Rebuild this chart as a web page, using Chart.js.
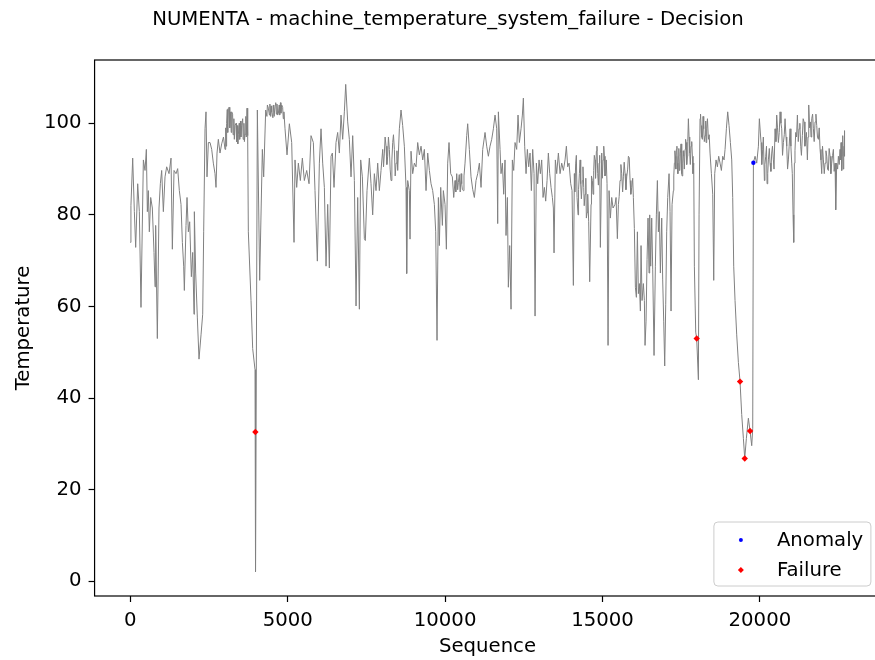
<!DOCTYPE html>
<html>
<head>
<meta charset="utf-8">
<script src="https://cdn.jsdelivr.net/npm/chart.js@4.4.1/dist/chart.umd.min.js"></script>
<style>
  html, body { margin: 0; padding: 0; background: #fff; overflow: hidden; }
  #wrap { width: 896px; height: 660px; }
</style>
</head>
<body>
<div id="wrap"><canvas id="chart" width="896" height="660"></canvas></div>
<script>
const TITLE = 'NUMENTA - machine_temperature_system_failure - Decision';

// sensor trace (sequence index, temperature)
const seq = [
  0, 20, 76, 129, 171, 235, 287, 340, 415, 468, 510, 542, 573, 605, 648, 700, 753, 785, 806, 859,
  912, 955, 997, 1050, 1103, 1156, 1230, 1294, 1336, 1389, 1452, 1505, 1558, 1611, 1654, 1696, 1717, 1770, 1802, 1844,
  1887, 1940, 1982, 2024, 2035, 2077, 2130, 2183, 2247, 2300, 2331, 2374, 2405, 2437, 2480, 2533, 2586, 2638, 2691, 2723,
  2755, 2797, 2850, 2903, 2960, 3009, 3060, 3115, 3221, 3327, 3433, 3539, 3644, 3708, 3729, 3750, 3835, 3888, 3962, 3973,
  3983, 4036, 4110, 4195, 4237, 4301, 4386, 4492, 4598, 4703, 4809, 4915, 4979, 5053, 5127, 5201, 5233, 5286, 5339, 5402,
  5466, 5529, 5604, 5678, 5741, 5815, 5868, 5942, 6006, 6059, 6112, 6165, 6218, 6271, 6324, 6377, 6419, 6472, 6535, 6588,
  6641, 6694, 6747, 6800, 6843, 6906, 6959, 7012, 7065, 7118, 7171, 7224, 7277, 7319, 7372, 7436, 7467, 7520, 7594, 7647,
  7700, 7753, 7806, 7859, 7912, 7965, 8018, 8071, 8124, 8177, 8230, 8283, 8336, 8389, 8442, 8495, 8547, 8600, 8653, 8706,
  8759, 8780, 8812, 8865, 8886, 8918, 8971, 9024, 9077, 9130, 9183, 9236, 9289, 9342, 9395, 9448, 9501, 9554, 9606, 9659,
  9702, 9744, 9787, 9818, 9861, 9914, 9945, 9998, 10041, 10083, 10125, 10178, 10231, 10274, 10316, 10422, 10528, 10581, 10634, 10687,
  10718, 10771, 10824, 10877, 10930, 10983, 11036, 11089, 11142, 11195, 11269, 11322, 11375, 11428, 11481, 11534, 11587, 11640, 11671, 11693,
  11746, 11777, 11820, 11862, 11904, 11936, 11979, 12010, 12053, 12095, 12137, 12180, 12222, 12275, 12317, 12360, 12413, 12455, 12487, 12529,
  12572, 12614, 12656, 12699, 12741, 12783, 12826, 12858, 12900, 12942, 12985, 13027, 13069, 13112, 13154, 13196, 13239, 13281, 13323, 13366,
  13408, 13440, 13461, 13503, 13546, 13599, 13652, 13705, 13758, 13811, 13853, 13895, 13938, 13991, 14033, 14075, 14107, 14149, 14192, 14224,
  14266, 14308, 14361, 14404, 14446, 14488, 14531, 14562, 14594, 14637, 14679, 14721, 14764, 14806, 14848, 14891, 14933, 14976, 15018, 15060,
  15103, 15145, 15177, 15209, 15251, 15293, 15336, 15399, 15431, 15473, 15505, 15558, 15611, 15664, 15717, 15770, 15823, 15876, 15929, 15981,
  16013, 16045, 16077, 16109, 16140, 16172, 16204, 16225, 16257, 16299, 16331, 16352, 16384, 16416, 16447, 16479, 16500, 16532, 16564, 16596,
  16638, 16680, 16712, 16744, 16776, 16807, 16839, 16882, 16913, 16945, 16977, 17009, 17040, 17072, 17115, 17146, 17178, 17210, 17252, 17284,
  17316, 17347, 17379, 17411, 17443, 17475, 17517, 17549, 17581, 17623, 17655, 17697, 17729, 17771, 17813, 17856, 17898, 17919, 17962, 17993,
  18047, 18068, 18099, 18131, 18174, 18216, 18258, 18311, 18364, 18417, 18460, 18502, 18534, 18565, 18608, 18650, 18692, 18735, 18777, 18820,
  18862, 18894, 18936, 18978, 19021, 19063, 19106, 19137, 19169, 19211, 19264, 19317, 19370, 19423, 19476, 19519, 19571, 19635, 19688, 19741,
  19773, 19794, 19847, 19900, 19953, 19984, 20037, 20090, 20143, 20186, 20228, 20270, 20323, 20376, 20429, 20482, 20535, 20588, 20641, 20694,
  20747, 20800, 20853, 20906, 20959, 21012, 21054, 21075, 21096, 21139, 21192, 21245, 21297, 21350, 21403, 21456, 21509, 21552, 21605, 21647,
  21700, 21753, 21806, 21859, 21912, 21965, 22018, 22071, 22124, 22177, 22230, 22282, 22335, 22388, 22409, 22441, 22494, 22547, 22579, 22600,
  22632, 22664, 22685, 22694
];
const temp = [
  74, 82, 92.4, 80.7, 72.9, 86.8, 80.7, 59.8, 92, 89.7, 94.3, 80.7, 85.3, 76.3, 83.8, 81.5, 71.8, 64.3, 77.7, 53,
  81.5, 86.8, 89.7, 80.7, 88.3, 90.5, 89, 92.4, 72.5, 89.7, 89, 90.1, 85.3, 82.3, 74, 68.8, 63.5, 77.7, 83.8, 76.3,
  78.5, 66.5, 71.8, 58.3, 80.7, 67.3, 57.5, 48.5, 53.8, 58.3, 76.3, 98.8, 102.5, 88.3, 95.8, 95.8, 94.3, 91.3, 89, 86,
  93.5, 96.5, 93.5, 95.5, 97, 94.3, 100, 103.3, 102.5, 99.5, 97.6, 99.5, 97.6, 103.3, 97.3, 76.3, 61.3, 50.8, 46.2, 32.6,
  2.1, 102.9, 65.7, 94.3, 88.3, 102.9, 103.3, 102.5, 104, 102.1, 104, 98.8, 93.1, 99.9, 95.8, 74, 92, 86, 91.3, 87.5,
  92.4, 87.5, 89.7, 86.8, 97.3, 95.8, 85.3, 69.9, 91.3, 98.8, 91.3, 86, 68.8, 82.3, 68.4, 92.8, 93.5, 86, 95.8, 98,
  93.5, 101.8, 96.5, 102.5, 108.5, 100.3, 96.5, 88.3, 97.3, 87.5, 60.1, 83.8, 59.4, 92, 88.3, 74.8, 74.4, 85.3, 92.4, 86.8,
  80, 89, 85.3, 91.3, 85.3, 89.7, 94.3, 93.5, 95, 92.8, 94.3, 87.5, 95.8, 94.3, 91.3, 89.7, 98.8, 102.9, 99.5, 95,
  86, 67.2, 87.5, 85.3, 74.7, 93.9, 89, 91.3, 90.5, 95.8, 93.1, 95, 92, 94.3, 85.3, 93.5, 89.7, 86.8, 85.3, 82.3,
  76.3, 52.6, 83.8, 73.3, 86, 77.7, 85.3, 82.3, 72.5, 91.3, 95.8, 89, 88.3, 83.8, 87.5, 87.1, 86.8, 85.3, 91.3, 97.3,
  99.9, 94.3, 88.3, 85.6, 83.8, 87.5, 89, 91.3, 86, 94.3, 98, 95, 92.8, 95, 96.5, 98.8, 101.8, 98.8, 78.1, 102.5,
  94.3, 89, 91.3, 84.5, 92, 75.5, 83.8, 64.2, 73.3, 59.4, 92, 89.7, 95.8, 94.3, 101.8, 95.8, 98.8, 101.8, 105.5, 95,
  89, 94.3, 90.5, 93.5, 85.3, 94.3, 89, 57.9, 91.3, 86.8, 92, 89, 92, 83.8, 86, 83, 87.5, 93.5, 89, 86,
  83.8, 81.5, 71.7, 92, 89, 93.5, 89, 91.3, 89.7, 92, 95, 90.5, 91.3, 86.8, 85.3, 64.6, 89, 91.3, 83.8, 80,
  89, 86.8, 87.5, 86, 84.5, 79.3, 84.5, 78.5, 65.4, 82.3, 87.5, 89.7, 92, 93.9, 89, 91.3, 72.9, 93.5, 92, 92.8,
  89, 86.8, 51.5, 85.3, 79.3, 83.8, 81.5, 82.3, 83.8, 74.8, 82.3, 87.5, 89, 88.3, 89, 88.3, 92.8, 87.5, 86, 83.8,
  77, 64.2, 62, 76.3, 62.8, 65, 59, 73.3, 61.3, 65, 61.3, 51.5, 56.8, 70.3, 79.3, 67.3, 80, 68.8, 79.3, 68,
  49.3, 68.8, 80, 87.5, 76.3, 80.7, 67.3, 79.3, 65.8, 56.8, 47, 60.5, 76.3, 83.8, 89, 80.7, 59, 82.3, 85.3, 91.3,
  92.8, 94.3, 91.3, 92.8, 89.7, 93.5, 89, 91.3, 92.8, 94.3, 95.8, 92.8, 101, 93.5, 95, 92.8, 91.3, 68.8, 54.4, 53,
  44, 80, 101, 99.5, 96.5, 98.8, 97.3, 98.8, 96.5, 93.5, 89, 84.5, 65.7, 89, 92, 90.5, 92.8, 91.3, 89.7, 92.8,
  92, 94.3, 98.8, 102.5, 99.5, 95.8, 92, 83.8, 68.8, 61.3, 53.8, 47.8, 43.6, 36.4, 31.2, 26.8, 31.2, 35.6, 32.8, 29.6,
  33.4, 91.4, 92.8, 91.3, 95, 101, 95.8, 94.3, 87.5, 92.8, 86.8, 92, 91.3, 93.5, 92, 98.8, 101.8, 95.8, 102.5, 98.8,
  95.8, 101, 95, 92, 98.8, 91.3, 80, 74, 91.3, 98, 101.8, 98.8, 95, 97.3, 100.3, 96.5, 92, 104, 100.3, 101,
  98.8, 100.3, 99.5, 96.5, 94.3, 89, 92, 91.3, 92.8, 89.7, 92.8, 91.3, 94.3, 91.3, 81.1, 91.3, 92.8, 94.3, 95.8, 89.7,
  97.3, 93.5, 98.4, 92.8
];

// extra points on the edges of the dense, noisy stretches
const bandSeq = [
  3030, 3045, 3080, 3095, 3140, 3160, 3190, 3205, 3250, 3265, 3290, 3305, 3360, 3375, 3400, 3415, 3460, 3475, 3500, 3515,
  3570, 3585, 3610, 3625, 3670, 3685,
  4340, 4355, 4420, 4435, 4460, 4475, 4530, 4545, 4570, 4620, 4640, 4660, 4680, 4730, 4745, 4770, 4785, 4840, 4860, 4880,
  8045, 8095, 8150, 8200, 8255, 8310, 8360, 8415, 8470,
  10340, 10370, 10400, 10450, 10480, 10510, 10550, 10600,
  14120, 14170, 14240, 14290, 14330, 14380, 14420, 14470, 14510, 14650, 14700, 14740, 14780, 14825, 14870, 14910, 14995, 15040, 15080, 15120,
  15530, 15585, 15640, 15690, 15745, 15800, 15850, 15900, 15960,
  17265, 17300, 17330, 17365, 17395, 17425, 17460, 17495, 17530, 17565, 17600, 17640, 17675, 17710, 17750, 17790, 17835, 17875,
  18115, 18150, 18195, 18235, 18280, 18290, 18335, 18390,
  20060, 20110, 20160, 20210, 20250, 20300, 20350, 20400, 20450, 20510, 20560, 20615, 20670, 20720, 20775, 20830, 20880, 20930, 20985, 21030,
  21115, 21165, 21220, 21270, 21320, 21375, 21430, 21480, 21530, 21580, 21625, 21675, 21725, 21780, 21830, 21885, 21940, 21990, 22045, 22100,
  22150, 22200, 22255, 22310, 22360, 22470, 22520, 22560, 22615, 22650, 22675
];
const bandTemp = [
  99, 95, 103, 98, 103.5, 99, 102.5, 98, 102, 97.5, 101, 96.5, 100, 96, 99.5, 95.5, 100, 96.5, 100.5, 97,
  101, 96.5, 100, 96, 101.5, 97,
  101.5, 104, 101.8, 104.2, 101.5, 103.8, 101.2, 104, 101.5, 104.5, 102, 104.2, 101.8, 104, 101.8, 104.5, 102.2, 103.5, 101, 102.5,
  90.5, 97, 91, 97, 90, 92, 97.5, 88.5, 94,
  85, 89, 85.5, 88.8, 85, 89, 85.5, 88.5,
  85, 93, 85.5, 92, 83.5, 90.5, 82, 88, 80.5, 88.5, 84.5, 93, 88, 95, 86.5, 93, 88, 95, 88.5, 92,
  84, 91, 85, 91.5, 85.5, 90, 92.5, 84.5, 88,
  88.5, 94, 90, 95, 89, 94.5, 90, 95.5, 88.5, 94, 90, 96.5, 91, 96, 97, 91, 96, 89,
  102, 97, 101.5, 96, 100.5, 95.8, 101, 97.5,
  91, 97, 91, 95, 89, 94.5, 89.5, 95, 90, 96, 99, 98, 100, 93, 97.5, 97, 90, 95, 95, 89,
  94, 97, 96, 100, 93, 101, 95, 98, 97, 99, 97, 102, 96, 102, 97, 99, 92, 95, 89, 94,
  90, 94.5, 89, 93, 89.5, 90, 91, 92, 93, 90, 95
];

// flagged points
const anomalySeq = [19794];
const anomalyTemp = [91.4];
const failureSeq = [3973, 17993, 19370, 19519, 19688];
const failureTemp = [32.6, 53, 43.6, 26.8, 32.8];

const xTicks = [0, 5000, 10000, 15000, 20000];
const yTicks = [0, 20, 40, 60, 80, 100];

const FONT = 'DejaVu Sans';
const FS = 19.7;
Chart.defaults.font.family = FONT;
Chart.defaults.color = '#000';

const toPts = (xs, ys) => xs.map((x, i) => ({ x, y: ys[i] }));
const tracePts = toPts(seq, temp).concat(toPts(bandSeq, bandTemp)).sort((a, b) => a.x - b.x);

// matplotlib-style 5% margins around the data
const pad = (lo, hi) => { const m = (hi - lo) * 0.05; return [lo - m, hi + m]; };
const [xMin, xMax] = pad(Math.min(...seq), Math.max(...seq));
const [yMin, yMax] = pad(Math.min(...temp), Math.max(...temp));

// frame on all four sides + legend box in the lower right of the axes
const framePlugin = {
  id: 'frame',
  afterDraw(chart) {
    const { ctx, chartArea: a } = chart;
    ctx.save();
    ctx.strokeStyle = '#000';
    ctx.lineWidth = 1.2;
    ctx.strokeRect(a.left, a.top, a.right - a.left, a.bottom - a.top);

    const w = 157, h = 64;
    const x0 = a.right - 9.5 - w, y0 = a.bottom - 10 - h;
    ctx.beginPath();
    ctx.roundRect(x0, y0, w, h, 4);
    ctx.fillStyle = 'rgba(255,255,255,0.8)';
    ctx.fill();
    ctx.strokeStyle = '#cccccc';
    ctx.lineWidth = 1;
    ctx.stroke();

    ctx.font = FS + 'px "' + FONT + '"';
    ctx.textBaseline = 'middle';
    ctx.textAlign = 'left';
    chart.data.datasets.filter(d => d.inLegend).forEach((d, i) => {
      const cy = y0 + 18 + i * 30;
      ctx.fillStyle = d.backgroundColor;
      ctx.strokeStyle = d.borderColor;
      Chart.helpers.drawPoint(ctx, { pointStyle: d.pointStyle, radius: d.legendRadius, borderWidth: 0, rotation: 0 }, x0 + 27, cy);
      ctx.fillStyle = '#000';
      ctx.fillText(d.label, x0 + 63, cy + 1);
    });
    ctx.restore();
  }
};

new Chart(document.getElementById('chart'), {
  type: 'scatter',
  data: {
    datasets: [
      {
        label: 'Temperature',
        type: 'line',
        data: tracePts,
        borderColor: '#808080',
        borderWidth: 1,
        pointRadius: 0,
        tension: 0,
        order: 3,
      },
      {
        label: 'Anomaly',
        inLegend: true,
        data: toPts(anomalySeq, anomalyTemp),
        backgroundColor: '#0000ff',
        borderColor: '#0000ff',
        pointStyle: 'circle',
        pointRadius: 2.2,
        legendRadius: 2,
        borderWidth: 0,
        order: 1,
      },
      {
        label: 'Failure',
        inLegend: true,
        data: toPts(failureSeq, failureTemp),
        backgroundColor: '#ff0000',
        borderColor: '#ff0000',
        pointStyle: 'rectRot',
        pointRadius: 3.2,
        legendRadius: 3,
        borderWidth: 0,
        order: 2,
      },
    ],
  },
  options: {
    responsive: false,
    animation: false,
    devicePixelRatio: 1,
    layout: { padding: { left: 15.6, right: 15.6, top: 0, bottom: 0 } },
    plugins: {
      legend: { display: false },
      tooltip: { enabled: false },
      title: {
        display: true,
        text: TITLE,
        color: '#000',
        font: { family: FONT, size: FS, weight: 'normal', lineHeight: 1.2 },
        padding: { top: 8.2, bottom: 28.16 },
      },
    },
    scales: {
      x: {
        type: 'linear',
        min: xMin,
        max: xMax,
        afterBuildTicks: s => { s.ticks = xTicks.map(v => ({ value: v })); },
        ticks: { color: '#000', font: { size: FS }, padding: 7, maxRotation: 0, callback: v => String(v) },
        grid: { display: true, drawOnChartArea: false, drawTicks: true, tickLength: 6, tickColor: '#000', tickWidth: 1.2 },
        border: { display: false },
        title: {
          display: true, text: 'Sequence', color: '#000',
          font: { size: FS, lineHeight: 1.2 }, padding: { top: -4.46, bottom: 1.18 },
        },
      },
      y: {
        type: 'linear',
        min: yMin,
        max: yMax,
        afterBuildTicks: s => { s.ticks = yTicks.map(v => ({ value: v })); },
        ticks: { color: '#000', font: { size: FS }, padding: 7, callback: v => String(v) },
        grid: { display: true, drawOnChartArea: false, drawTicks: true, tickLength: 6, tickColor: '#000', tickWidth: 1.2 },
        border: { display: false },
        title: {
          display: true, text: 'Temperature', color: '#000',
          font: { size: FS, lineHeight: 1 }, padding: { top: -1.45, bottom: 3.15 },
        },
      },
    },
  },
  plugins: [framePlugin],
});
</script>
</body>
</html>
